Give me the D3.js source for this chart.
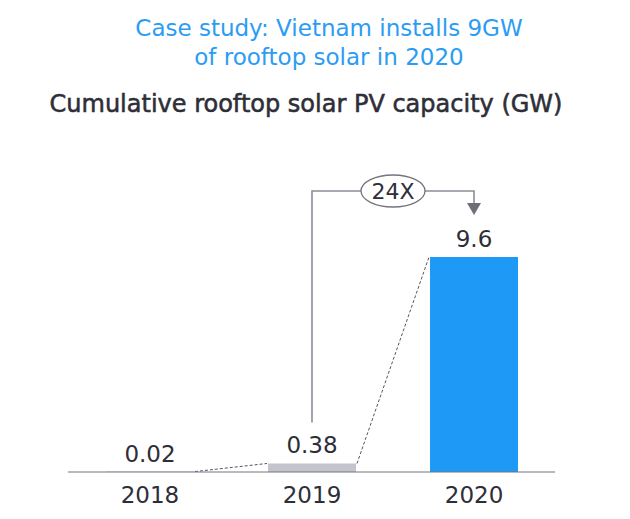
<!DOCTYPE html>
<html>
<head>
<meta charset="utf-8">
<script src="https://cdn.jsdelivr.net/npm/d3@7"></script>
<style>
  html, body { margin: 0; padding: 0; background: #ffffff; }
  svg { display: block; }
  text { font-family: "DejaVu Sans", Verdana, sans-serif; }
</style>
</head>
<body>
<svg id="chart" width="630" height="519"></svg>
<script>
// ---- data ----
const years = ["2018", "2019", "2020"];
const capacity = [0.02, 0.38, 9.6];
const valueLabels = ["0.02", "0.38", "9.6"];
const barColors = ["#c4c4cd", "#c4c4cd", "#1e99f6"];
const titleLines = ["Case study: Vietnam installs 9GW", "of rooftop solar in 2020"];
const subtitle = "Cumulative rooftop solar PV capacity (GW)";
const growthLabel = "24X";

const svg = d3.select("#chart");
const W = 630, H = 519;

// ---- scales ----
const x = d3.scaleBand().domain(years).range([106, 518]).paddingInner(0.457).paddingOuter(0);
const y = d3.scaleLinear().domain([0, 9.6]).range([472, 257]);

const data = years.map((yr, i) => ({ year: yr, value: capacity[i], label: valueLabels[i], color: barColors[i] }));

// ---- titles ----
svg.append("g").selectAll("text").data(titleLines).join("text")
  .attr("x", 329).attr("y", (d, i) => 36 + i * 29)
  .attr("text-anchor", "middle")
  .attr("font-size", 23)
  .attr("fill", "#2a9cf4")
  .text(d => d);

svg.append("text")
  .attr("x", 306).attr("y", 112)
  .attr("text-anchor", "middle")
  .attr("font-size", 24)
  .attr("fill", "#2e2e38")
  .attr("stroke", "#2e2e38").attr("stroke-width", 0.55)
  .text(subtitle);

// ---- bars ----
svg.append("g").selectAll("rect").data(data).join("rect")
  .attr("x", d => x(d.year))
  .attr("width", x.bandwidth())
  .attr("y", d => y(d.value))
  .attr("height", d => y(0) - y(d.value))
  .attr("fill", d => d.color);

// ---- dashed connectors between bar tops ----
const dashG = svg.append("g");
for (let i = 0; i < data.length - 1; i++) {
  dashG.append("line")
    .attr("x1", x(data[i].year) + x.bandwidth() + 1)
    .attr("y1", y(data[i].value))
    .attr("x2", x(data[i + 1].year) - 1)
    .attr("y2", y(data[i + 1].value))
    .attr("stroke", "#55555f").attr("stroke-width", 1)
    .attr("stroke-dasharray", "3,2");
}

// ---- baseline axis ----
const axis = svg.append("g").attr("transform", `translate(0,${y(0)})`)
  .call(d3.axisBottom(x).tickSize(0).tickPadding(31));
axis.select(".domain").remove();
axis.append("line").attr("x1", 68).attr("x2", 555).attr("y1", 0).attr("y2", 0)
  .attr("stroke", "#747480").attr("stroke-width", 1.2);
axis.selectAll(".tick text")
  .attr("font-family", "DejaVu Sans, Verdana, sans-serif")
  .attr("font-size", 23)
  .attr("fill", "#2e2e38")
  .attr("dy", 0);

// ---- value labels ----
svg.append("g").selectAll("text").data(data).join("text")
  .attr("x", d => x(d.year) + x.bandwidth() / 2)
  .attr("y", d => y(d.value) - 10)
  .attr("text-anchor", "middle")
  .attr("font-size", 23)
  .attr("fill", "#2e2e38")
  .text(d => d.label);

// ---- growth bracket ----
const from = data[1], to = data[2];
const cx1 = x(from.year) + x.bandwidth() / 2;
const cx2 = x(to.year) + x.bandwidth() / 2;
const topY = 191;
const startY = y(from.value) - 41;
const tipY = y(to.value) - 42;
svg.append("path")
  .attr("d", `M${cx1},${startY}V${topY}H${cx2}V${tipY - 11}`)
  .attr("fill", "none").attr("stroke", "#8c8c96").attr("stroke-width", 1.6);
svg.append("path")
  .attr("d", `M${cx2 - 7},${tipY - 12}L${cx2 + 7},${tipY - 12}L${cx2},${tipY}Z`)
  .attr("fill", "#6e6e78");
const ex = (cx1 + cx2) / 2;
svg.append("ellipse")
  .attr("cx", ex).attr("cy", topY).attr("rx", 32).attr("ry", 16)
  .attr("fill", "#ffffff").attr("stroke", "#747480").attr("stroke-width", 1.3);
svg.append("text")
  .attr("x", ex).attr("y", topY + 8)
  .attr("text-anchor", "middle")
  .attr("font-size", 22)
  .attr("fill", "#2e2e38")
  .text(growthLabel);
</script>
</body>
</html>
